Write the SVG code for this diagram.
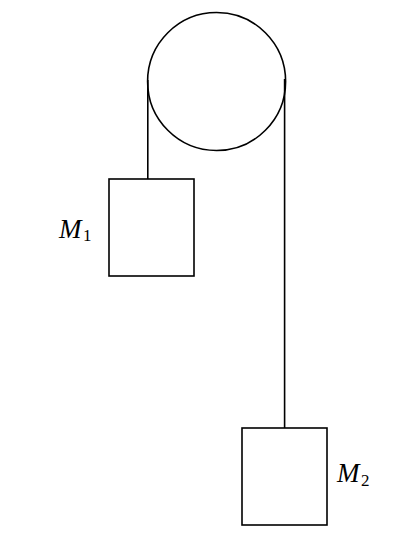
<svg xmlns="http://www.w3.org/2000/svg" width="410" height="535" viewBox="0 0 410 535">
<style>
.s{fill:none;stroke:#000;stroke-width:1.6}
.l{font-family:"Liberation Serif",serif;font-size:27px;font-style:italic;fill:#000}
.b{font-family:"Liberation Serif",serif;font-size:17px;fill:#000}
</style>
<rect width="410" height="535" fill="#fff"/>
<g id="connectors">
<line class="s" x1="147.800" y1="80" x2="147.800" y2="179"/>
<line class="s" x1="284.600" y1="79" x2="284.600" y2="428"/>
</g>
<g id="pulley"><circle class="s" cx="216.600" cy="81.500" r="69"/></g>
<g id="m1"><rect class="s" x="109" y="179" width="85" height="97"/>
<text class="l" x="59" y="238">M</text><text class="b" x="83" y="241">1</text></g>
<g id="m2"><rect class="s" x="242" y="428" width="85" height="97"/>
<text class="l" x="337" y="482">M</text><text class="b" x="361" y="486">2</text></g>
</svg>
